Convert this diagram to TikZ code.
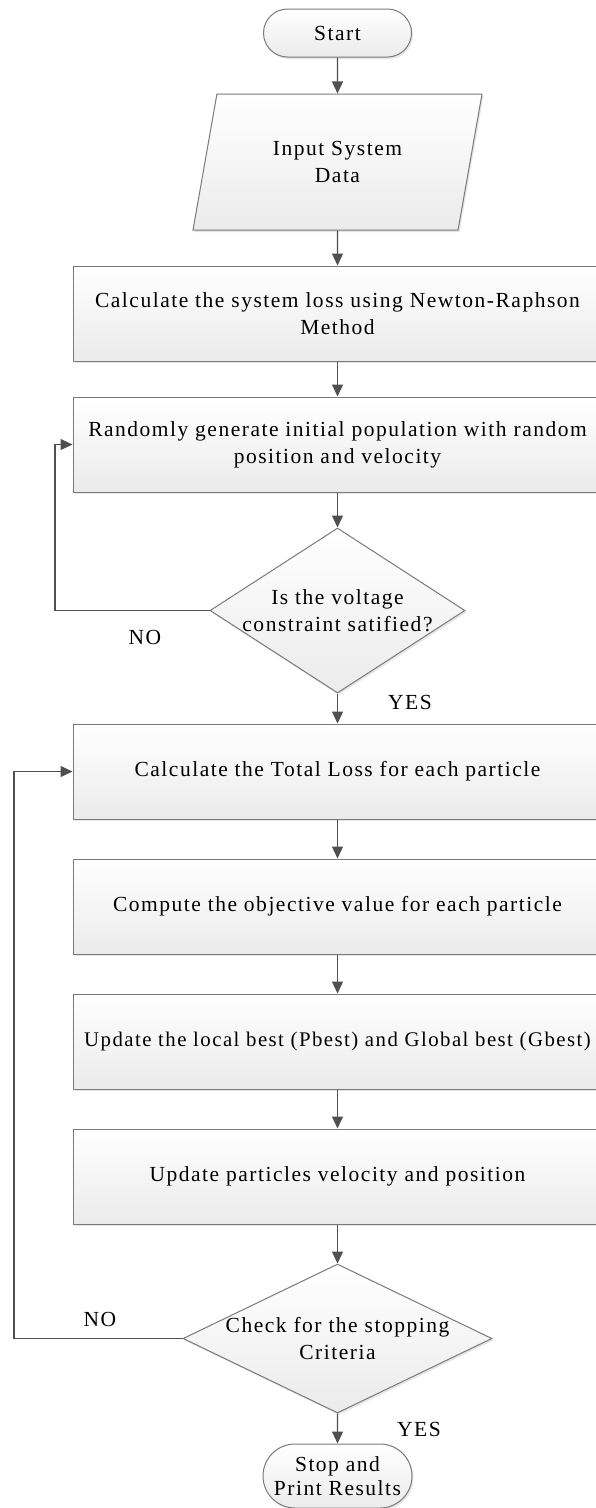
\documentclass[tikz,border=0pt]{standalone}
\usepackage{fontspec}
\setmainfont[LetterSpace=7]{Liberation Serif}
\usetikzlibrary{shapes.geometric,shapes.misc,shadows,arrows.meta}
\definecolor{rim}{HTML}{7A7A7A}
\definecolor{wire}{HTML}{505050}
\definecolor{lowfill}{HTML}{EBEBEB}

\begin{document}
\begin{tikzpicture}[x=1pt,y=-1pt,font=\fontsize{21.5}{27}\selectfont,
  flow/.style={draw=rim,line width=1pt,top color=white,bottom color=lowfill,align=center,
    drop shadow={shadow xshift=1.5pt,shadow yshift=-2pt,opacity=0.2}},
  proc/.style={flow,rectangle,minimum width=529pt,minimum height=95pt,inner sep=0pt},
  term/.style={flow,rounded rectangle,minimum width=148pt,minimum height=48pt,inner sep=0pt},
  decide/.style={flow,diamond,inner sep=-30pt},
  io/.style={flow,trapezium,trapezium left angle=60,trapezium right angle=120,
    trapezium stretches body,minimum width=289pt,minimum height=136pt,inner sep=0pt},
  link/.style={draw=wire,line width=1.2pt,-{Triangle[width=11pt,length=12pt]}}]
\useasboundingbox (0,0) rectangle (596,1508);

% terminals and blocks
\node[term] (start) at (337.5,33) {Start};
\node[io] (input) at (337.5,162) {Input System\\Data};
\node[proc] (calc) at (337.5,313.5) {Calculate the system loss using Newton-Raphson\\Method};
\node[proc] (rand) at (337.5,444.5) {Randomly generate initial population with random\\position and velocity};
\node[decide,minimum width=255pt,minimum height=165pt] (volt) at (337.5,610.5) {Is the voltage\\constraint satified?};
\node[proc] (total) at (337.5,771.5) {Calculate the Total Loss for each particle};
\node[proc] (obj) at (337.5,906.5) {Compute the objective value for each particle};
\node[proc,font=\fontsize{20.8}{27}\selectfont] (best) at (337.5,1041.5) {Update the local best (Pbest) and Global best (Gbest)};
\node[proc] (move) at (337.5,1176.5) {Update particles velocity and position};
\node[decide,minimum width=309pt,minimum height=149pt] (stopchk) at (337.5,1338.5) {Check for the stopping\\Criteria};
\node[term,minimum width=149pt,minimum height=64pt,font=\fontsize{21.5}{24}\selectfont] (stop) at (337.5,1476) {Stop and\\Print Results};

% loop corners
\coordinate (loopa) at (55,610.5);
\coordinate (loopb) at (14,1338.5);

\draw[link] (start) -- (input);
\draw[link] (input) -- (calc);
\draw[link] (calc) -- (rand);
\draw[link] (rand) -- (volt);
\draw[link] (volt) -- (total);
\draw[link] (volt.west) -- (loopa) |- (rand.west);
\draw[link] (total) -- (obj);
\draw[link] (obj) -- (best);
\draw[link] (best) -- (move);
\draw[link] (move) -- (stopchk);
\draw[link] (stopchk) -- (stop);
\draw[link] (stopchk.west) -- (loopb) |- (total.west);

% branch labels
\node (noa) at (145,637) {NO};
\node (yesa) at (410,702) {YES};
\node (nob) at (100,1319) {NO};
\node (yesb) at (419,1429) {YES};
\end{tikzpicture}
\end{document}
